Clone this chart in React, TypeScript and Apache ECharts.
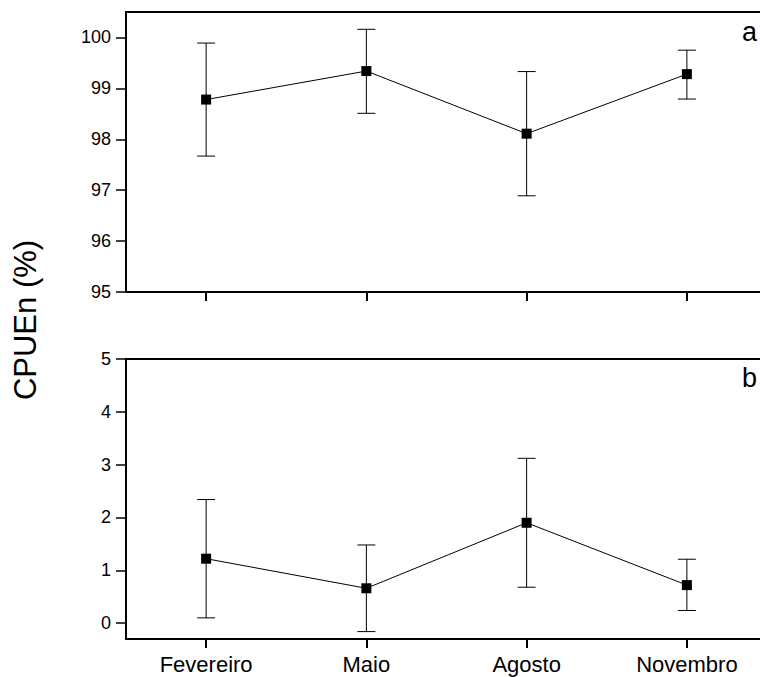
import React, { useEffect, useRef } from "react";
import * as echarts from "echarts";

const months = ["Fevereiro", "Maio", "Agosto", "Novembro"];

const meanA = [98.78, 99.34, 98.11, 99.28];
const upperA = [99.89, 100.16, 99.33, 99.75];
const lowerA = [97.67, 98.51, 96.89, 98.79];

const meanB = [1.22, 0.66, 1.9, 0.72];
const upperB = [2.34, 1.48, 3.12, 1.21];
const lowerB = [0.1, -0.16, 0.68, 0.24];

const ticksA = [95, 96, 97, 98, 99, 100];
const ticksB = [0, 1, 2, 3, 4, 5];

const FONT = "Liberation Sans, Arial, Helvetica, sans-serif";

function errorRender(params: any, api: any) {
  const x = api.value(0);
  const lo = api.value(1);
  const hi = api.value(2);
  const pHi = api.coord([x, hi]);
  const pLo = api.coord([x, lo]);
  const hw = 9;
  const style = { stroke: "#000", lineWidth: 1 };
  return {
    type: "group",
    children: [
      { type: "line", shape: { x1: pHi[0], y1: pHi[1], x2: pLo[0], y2: pLo[1] }, style },
      { type: "line", shape: { x1: pHi[0] - hw, y1: pHi[1], x2: pHi[0] + hw, y2: pHi[1] }, style },
      { type: "line", shape: { x1: pLo[0] - hw, y1: pLo[1], x2: pLo[0] + hw, y2: pLo[1] }, style },
    ],
  };
}

export default function App() {
  const ref = useRef<HTMLDivElement>(null);
  useEffect(() => {
    if (!ref.current) return;
    const chart = echarts.init(ref.current, null, { renderer: "svg" });
    const axisLine = { onZero: false, lineStyle: { color: "#000", width: 2 } };
    const xBase = (gridIndex: number, showLabel: boolean) => ({
      type: "category",
      gridIndex,
      data: months,
      boundaryGap: true,
      axisLine,
      axisTick: { show: true, alignWithLabel: true, length: 9, lineStyle: { color: "#000", width: 2 } },
      axisLabel: { show: showLabel, color: "#000", fontSize: 22, fontFamily: FONT, margin: 14 },
      splitLine: { show: false },
    });
    const yBase = (gridIndex: number, min: number, max: number, ticks: number[]) => ({
      type: "value",
      gridIndex,
      min,
      max,
      axisLine: { show: true, ...axisLine },
      axisTick: { show: true, length: 10, customValues: ticks, lineStyle: { color: "#000", width: 1.5 } },
      axisLabel: { show: true, color: "#000", fontSize: 18, fontFamily: FONT, margin: 15, customValues: ticks },
      splitLine: { show: false },
    });
    chart.setOption({
      animation: false,
      backgroundColor: "#fff",
      grid: [
        { left: 126, top: 12, width: 641, height: 280, show: true, borderColor: "#000", borderWidth: 2, backgroundColor: "transparent" },
        { left: 126, top: 359, width: 641, height: 280, show: true, borderColor: "#000", borderWidth: 2, backgroundColor: "transparent" },
      ],
      xAxis: [xBase(0, false), xBase(1, true)],
      yAxis: [yBase(0, 95, 100.5, ticksA), yBase(1, -0.3, 5, ticksB)],
      series: [
        {
          type: "custom",
          xAxisIndex: 0,
          yAxisIndex: 0,
          renderItem: errorRender,
          encode: { x: 0, y: [1, 2] },
          data: months.map((_, i) => [i, lowerA[i], upperA[i]]),
          z: 2,
        },
        {
          type: "line",
          xAxisIndex: 0,
          yAxisIndex: 0,
          data: meanA,
          symbol: "rect",
          symbolSize: 10,
          itemStyle: { color: "#000" },
          lineStyle: { color: "#000", width: 1 },
          z: 3,
        },
        {
          type: "custom",
          xAxisIndex: 1,
          yAxisIndex: 1,
          renderItem: errorRender,
          encode: { x: 0, y: [1, 2] },
          data: months.map((_, i) => [i, lowerB[i], upperB[i]]),
          z: 2,
        },
        {
          type: "line",
          xAxisIndex: 1,
          yAxisIndex: 1,
          data: meanB,
          symbol: "rect",
          symbolSize: 10,
          itemStyle: { color: "#000" },
          lineStyle: { color: "#000", width: 1 },
          z: 3,
        },
      ],
      graphic: [
        {
          type: "text",
          x: 25,
          y: 320,
          rotation: Math.PI / 2,
          style: { text: "CPUEn (%)", fill: "#000", font: `31px ${FONT}`, textAlign: "center", textVerticalAlign: "middle" },
        },
        {
          type: "text",
          x: 742,
          y: 32,
          style: { text: "a", fill: "#000", font: `27px ${FONT}`, textAlign: "left", textVerticalAlign: "middle" },
        },
        {
          type: "text",
          x: 742,
          y: 378,
          style: { text: "b", fill: "#000", font: `27px ${FONT}`, textAlign: "left", textVerticalAlign: "middle" },
        },
      ],
    });
    return () => chart.dispose();
  }, []);
  return (
    <div style={{ position: "fixed", left: 0, top: 0, width: 760, height: 677, overflow: "hidden", background: "#fff" }}>
      <div ref={ref} style={{ position: "absolute", left: 0, top: 0, width: 800, height: 677 }} />
    </div>
  );
}
